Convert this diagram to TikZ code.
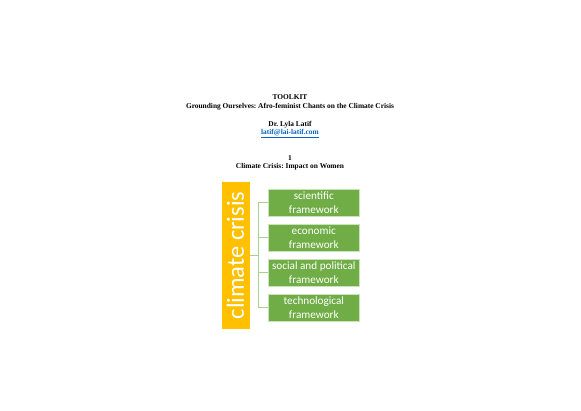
\documentclass[tikz,border=0pt]{standalone}
\usepackage{fontspec}
\setmainfont{Liberation Serif}
\newfontfamily\calib{Carlito}
\frenchspacing
\definecolor{orng}{HTML}{FFC000}
\definecolor{grn}{HTML}{70AD47}
\definecolor{lgrn}{HTML}{A9D18E}
\definecolor{lnk}{HTML}{0563C1}
\tikzset{
  ttl/.style={font=\fontsize{7.4}{8}\selectfont\bfseries, inner sep=0pt, anchor=center},
  fbox/.style={draw=lgrn!60!white, line width=0.6pt, fill=grn, text=white, minimum width=91pt, minimum height=27pt, inner sep=0pt, align=center, font=\calib\fontsize{11.2}{13.7}\selectfont},
  conn/.style={draw=lgrn, line width=0.8pt}
}
\begin{document}
\begin{tikzpicture}[x=1pt,y=-1pt]
\useasboundingbox (0,0) rectangle (581,410);
\node[ttl] (t1) at (290,97) {TOOLKIT};
\node[ttl] (t2) at (290,106.5) {Grounding Ourselves: Afro-feminist Chants on the Climate Crisis};
\node[ttl] (t3) at (290,124.5) {Dr. Lyla Latif};
\node[ttl, text=lnk] (t4) at (290,133.5) {\underline{latif@lai-latif.com}};
\node[ttl] (t5) at (290,158) {1};
\node[ttl] (t6) at (290,167) {Climate Crisis: Impact on Women};
\node[fill=orng, minimum width=28pt, minimum height=147pt, inner sep=0pt] (cc) at (235.5,255.5) {};
\node[text=white, rotate=90, font=\calib\fontsize{24.5}{28}\selectfont, inner sep=0pt] (cct) at (cc.center) {climate crisis};
\node[fbox] (b1) at (313.8,202.7) {scientific\\framework};
\node[fbox] (b2) at (313.8,237.7) {economic\\framework};
\node[fbox] (b3) at (313.8,272.7) {social and political\\framework};
\node[fbox] (b4) at (313.8,307.7) {technological\\framework};
\coordinate (j) at (258.3,255.5);
\draw[conn] (cc.east) -- (j);
\draw[conn] (b1.west) -- (b1.west -| j) -- (b4.west -| j) -- (b4.west);
\draw[conn] (b2.west) -- (b2.west -| j);
\draw[conn] (b3.west) -- (b3.west -| j);
\end{tikzpicture}
\end{document}
